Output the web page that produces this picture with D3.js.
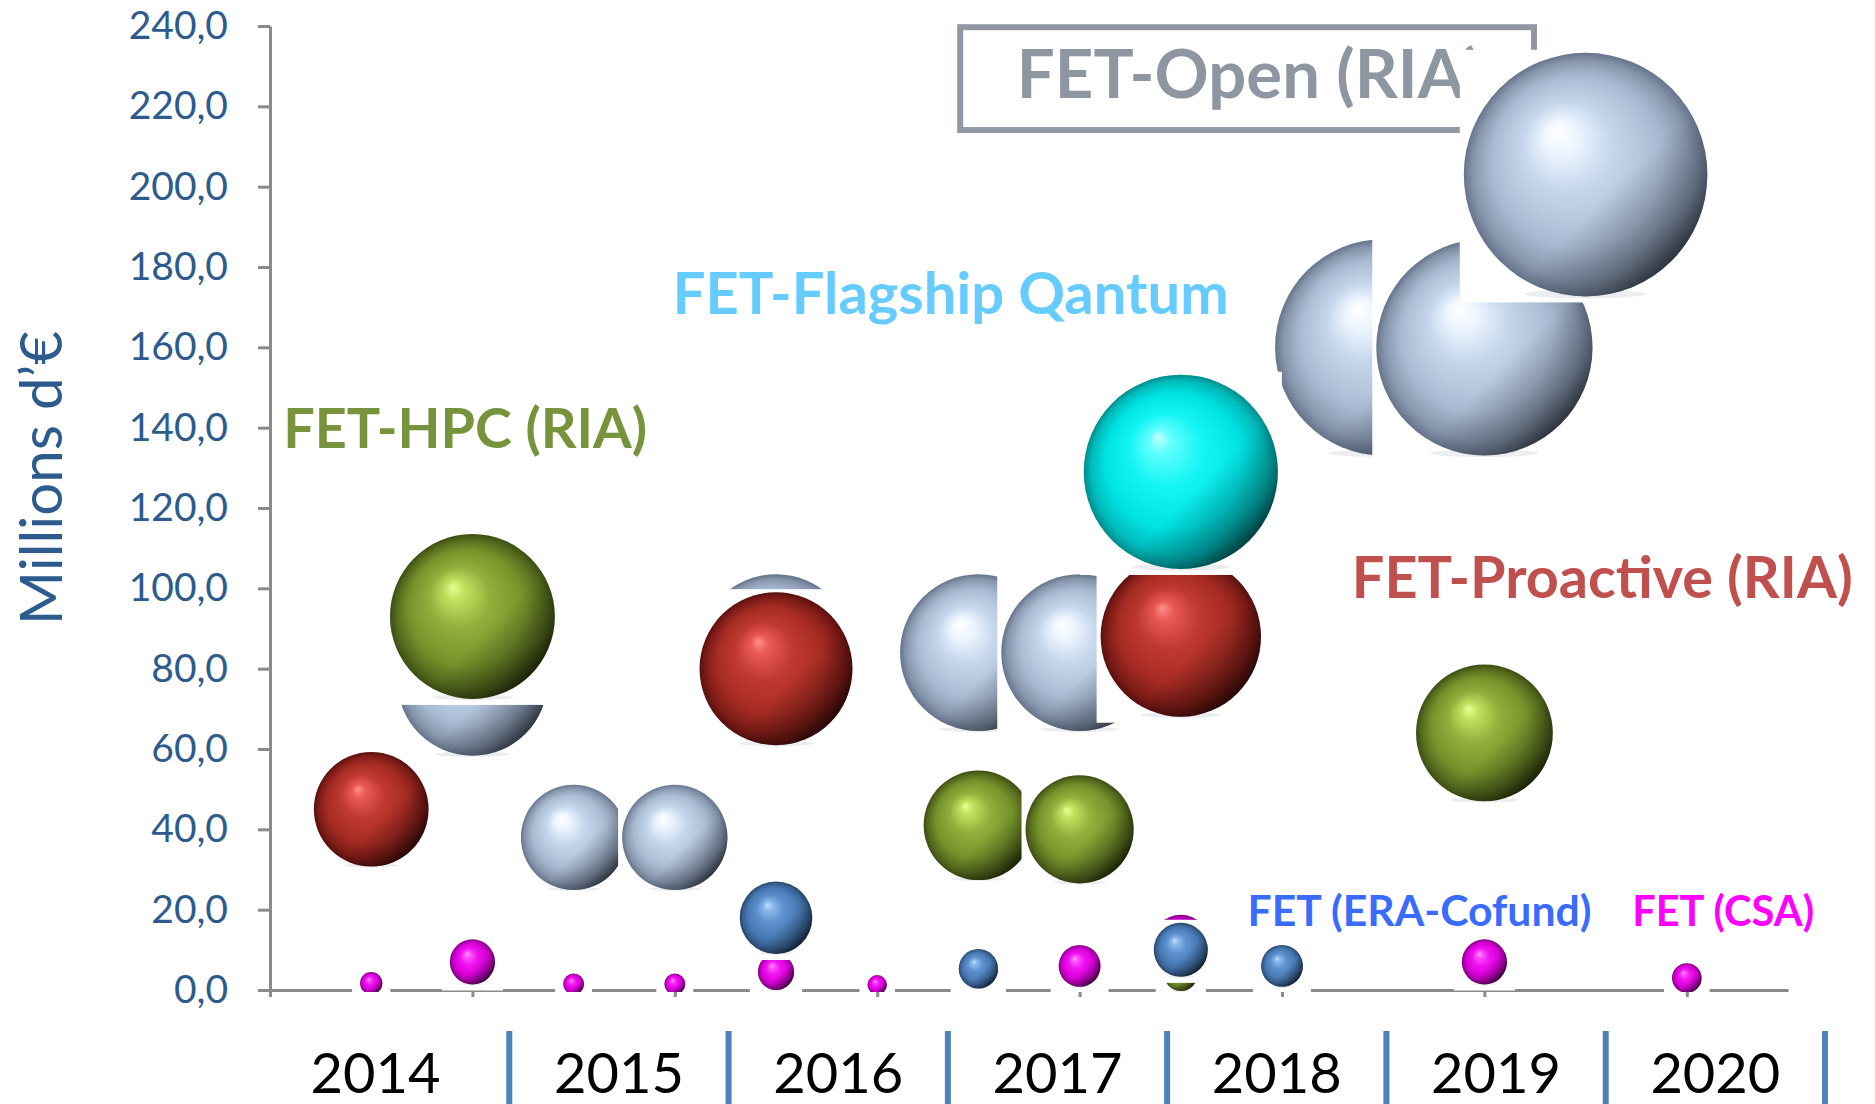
<!DOCTYPE html>
<html>
<head>
<meta charset="utf-8">
<script src="https://cdn.jsdelivr.net/npm/d3@7"></script>
<style>
  html, body { margin: 0; padding: 0; background: #fff; }
  svg { display: block; font-family: Lato, 'Open Sans', sans-serif; }
</style>
</head>
<body>
<svg id="chart" width="1875" height="1104"></svg>
<script>
// 14 call slots (two per year), values in millions of euros
const slots = d3.range(1, 15);
const years = ['2014', '2015', '2016', '2017', '2018', '2019', '2020'];
const yTicks = d3.range(0, 241, 20);

const fetOpen      = [null, 77, 38, 38, 84, null, 84, 84, null, null, 160, 160, 203, null];
const fetHpc       = [null, 93, null, null, null, null, 41, 40, 4, null, null, 64, null, null];
const fetCsa       = [1.7, 7, 1.5, 1.5, 4.5, 1.3, null, 6, 11.5, 1.2, null, 7, null, 3];
const fetProactive = [45, null, null, null, 80, null, null, null, 88, null, null, null, null, null];
const fetFlagship  = [null, null, null, null, null, null, null, null, 129, null, null, null, null, null];
const fetEra       = [null, null, null, null, 18, null, 5.3, null, 10, 6, null, null, null, null];

// draw order matters: later spheres hide earlier ones with their white backing
const series = [
  { key: 'open', values: fetOpen,
    stops: [[0, '#ffffff'], [0.14, '#edf5ff'], [0.36, '#c6d7ec'], [0.7, '#a8bad2'], [0.9, '#8595ac'], [1, '#66748a']] },
  { key: 'hpc', values: fetHpc,
    stops: [[0, '#e8ff94'], [0.12, '#c2e05f'], [0.38, '#8fae3a'], [0.7, '#76932b'], [0.9, '#55691d'], [1, '#3c4d13']] },
  { key: 'csa', values: fetCsa,
    stops: [[0, '#ffb4ff'], [0.12, '#ff55ff'], [0.38, '#f012f0'], [0.7, '#da00da'], [0.9, '#a800a8'], [1, '#760076']] },
  { key: 'proactive', values: fetProactive,
    stops: [[0, '#ff908a'], [0.12, '#e95a54'], [0.38, '#c0392f'], [0.7, '#a52b24'], [0.9, '#7c1b16'], [1, '#571010']] },
  { key: 'flagship', values: fetFlagship,
    stops: [[0, '#c4ffff'], [0.12, '#62fefe'], [0.38, '#14f4f4'], [0.7, '#00e2e2'], [0.9, '#00baba'], [1, '#008c8c']] },
  { key: 'era', values: fetEra,
    stops: [[0, '#c8e3ff'], [0.12, '#8cbaec'], [0.38, '#5c90cd'], [0.7, '#4a7ab5'], [0.9, '#365e8e'], [1, '#254062']] }
];

const notes = [
  { text: 'FET-HPC (RIA)', slot: 0.13, value: 134.9, width: 364, color: '#77933C' },
  { text: 'FET-Flagship Qantum', slot: 3.98, value: 168.3, width: 556, color: '#66CCFF' },
  { text: 'FET-Open (RIA)', slot: 7.38, value: 222.1, width: 466, color: '#8E96A1' },
  { text: 'FET-Proactive (RIA)', slot: 10.69, value: 97.6, width: 501, color: '#C0504D' },
  { text: 'FET (ERA-Cofund)', slot: 9.66, value: 15.9, width: 344, color: '#3A6BFF' },
  { text: 'FET (CSA)', slot: 13.46, value: 15.9, width: 182, color: '#FF00FF' }
];

const svg = d3.select('#chart');
const axisColor = '#8a8a8a';
const labelBlue = '#2E5B8D';

const x = d3.scaleLinear().domain([0, 15]).range([270, 1788]);
const y = d3.scaleLinear().domain([0, 240]).range([990, 26]);
const r = d3.scaleSqrt().domain([0, 203]).range([0, 121.8]);
const yearBand = d3.scaleBand().domain(years).range([290, 1825]);

const fr = d3.formatLocale({ decimal: ',', thousands: ' ', grouping: [3], currency: ['', '€'] });
const fmt = fr.format('.1f');

function fit(sel, width) {
  const w = sel.node().getComputedTextLength();
  const fs = parseFloat(sel.attr('font-size'));
  sel.attr('font-size', (fs * width / w).toFixed(2));
}

// gradients
const defs = svg.append('defs');
series.forEach(s => {
  const g = defs.append('radialGradient').attr('id', 'g-' + s.key)
    .attr('cx', '50%').attr('cy', '50%').attr('r', '50%')
    .attr('fx', '38%').attr('fy', '32%');
  g.selectAll('stop').data(s.stops).join('stop')
    .attr('offset', d => d[0]).attr('stop-color', d => d[1]);
});
const shade = defs.append('linearGradient').attr('id', 'shade')
  .attr('x1', '0.25').attr('y1', '0.15').attr('x2', '0.95').attr('y2', '0.85');
[[0, 0], [0.55, 0], [0.8, 0.28], [1, 0.68]].forEach(([o, a]) =>
  shade.append('stop').attr('offset', o).attr('stop-color', '#000').attr('stop-opacity', a));
defs.append('clipPath').attr('id', 'plotClip')
  .append('rect').attr('x', 0).attr('y', 0).attr('width', 1875).attr('height', 992);

// axes
const yAxis = svg.append('g').attr('transform', `translate(${x(0)},0)`)
  .call(d3.axisLeft(y).tickValues(yTicks).tickSize(12).tickSizeOuter(0).tickPadding(30).tickFormat(fmt));
const xAxis = svg.append('g').attr('transform', `translate(0,${y(0)})`)
  .call(d3.axisBottom(x).tickValues(d3.range(0, 15, 2)).tickSize(7).tickSizeOuter(0).tickFormat(''));
[yAxis, xAxis].forEach(a => {
  a.select('.domain').attr('stroke', axisColor).attr('stroke-width', 3);
  a.selectAll('.tick line').attr('stroke', axisColor).attr('stroke-width', 3);
});
yAxis.selectAll('.tick text')
  .attr('fill', labelBlue).attr('font-size', 39).attr('font-family', 'Lato, sans-serif');

svg.append('text')
  .attr('transform', 'translate(62,478) rotate(-90)')
  .attr('text-anchor', 'middle')
  .attr('fill', labelBlue)
  .attr('font-size', 56)
  .text('Millions d’€')
  .call(fit, 294);

// annotation labels
const noteSel = svg.append('g').selectAll('text').data(notes).join('text')
  .attr('x', d => x(d.slot))
  .attr('y', d => y(d.value))
  .attr('fill', d => d.color)
  .attr('font-weight', 700)
  .attr('font-size', 50)
  .text(d => d.text);
noteSel.each(function (d) { fit(d3.select(this), d.width); });

svg.append('rect')
  .attr('x', x(6.82)).attr('y', y(239.7))
  .attr('width', x(12.49) - x(6.82)).attr('height', y(214.1) - y(239.7))
  .attr('fill', 'none').attr('stroke', '#8F98A3').attr('stroke-width', 6);

// bubbles
const bubbles = [];
series.forEach(s => s.values.forEach((v, i) => {
  if (v != null) bubbles.push({ key: s.key, slot: slots[i], value: v });
}));

const padX = d => (r(d.value) < 30 ? 8 : 4);
const plot = svg.append('g').attr('clip-path', 'url(#plotClip)');
const bg = plot.selectAll('g.bubble').data(bubbles).join('g').attr('class', 'bubble');

bg.append('rect')
  .attr('x', d => x(d.slot) - r(d.value) - padX(d))
  .attr('y', d => y(d.value) - r(d.value) - 3)
  .attr('width', d => 2 * (r(d.value) + padX(d)))
  .attr('height', d => 2 * r(d.value) + 9)
  .attr('fill', '#fff');

bg.append('ellipse')
  .attr('cx', d => x(d.slot))
  .attr('cy', d => y(d.value) + r(d.value) * 0.98)
  .attr('rx', d => r(d.value) * 0.5)
  .attr('ry', d => Math.max(1.5, r(d.value) * 0.035))
  .attr('fill', '#d3d7dd').attr('opacity', 0.45);

bg.append('circle')
  .attr('cx', d => x(d.slot)).attr('cy', d => y(d.value)).attr('r', d => r(d.value))
  .attr('fill', d => `url(#g-${d.key})`);

bg.append('circle')
  .attr('cx', d => x(d.slot)).attr('cy', d => y(d.value)).attr('r', d => r(d.value))
  .attr('fill', 'url(#shade)');

// years under the axis: separators at band edges, labels centred between them
const sepX = years.map(yr => yearBand(yr) + yearBand.bandwidth());
const yearG = svg.append('g');
yearG.selectAll('text').data(years).join('text')
  .attr('x', (d, i) => ((i === 0 ? x(-0.28) : sepX[i - 1]) + sepX[i]) / 2)
  .attr('y', 1093)
  .attr('text-anchor', 'middle')
  .attr('font-size', 56)
  .attr('fill', '#000')
  .text(d => d);
yearG.selectAll('line').data(sepX).join('line')
  .attr('x1', d => d).attr('x2', d => d)
  .attr('y1', 1031).attr('y2', 1104)
  .attr('stroke', '#4F81BD').attr('stroke-width', 6);
</script>
</body>
</html>
